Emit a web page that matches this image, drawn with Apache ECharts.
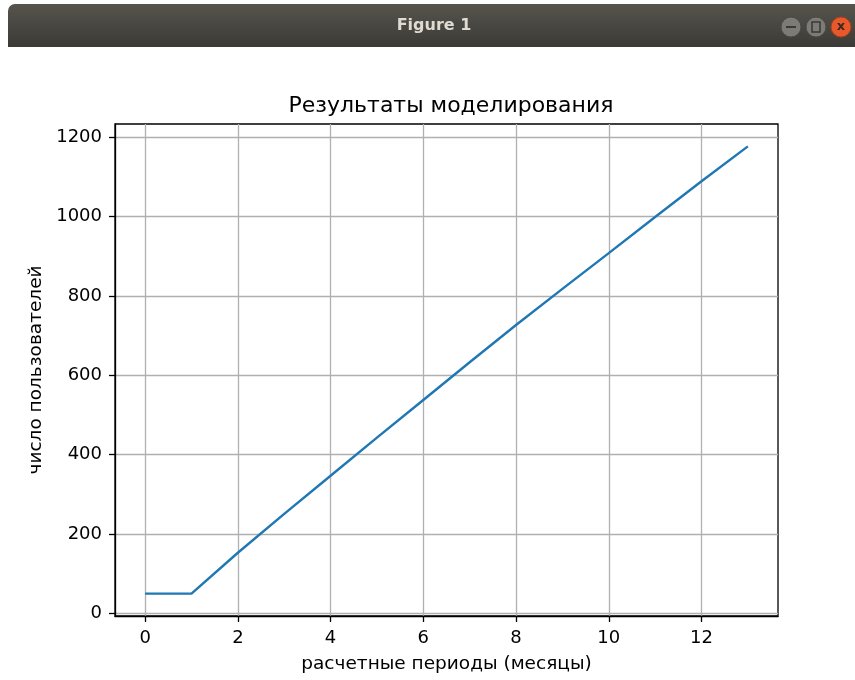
<!DOCTYPE html>
<html>
<head>
<meta charset="utf-8">
<script src="https://cdn.jsdelivr.net/npm/echarts@6/dist/echarts.min.js"></script>
<style>
  html, body { margin: 0; padding: 0; background: #ffffff; }
  #chart { width: 855px; height: 680px; }
</style>
</head>
<body>
<div id="chart"></div>
<script>
const periods = [0, 1, 2, 3, 4, 5, 6, 7, 8, 9, 10, 11, 12, 13];
const users = [50, 50, 153, 251, 347, 443, 538, 633, 727, 818, 908, 999, 1089, 1177];
const xTicks = [0, 2, 4, 6, 8, 10, 12];
const yTicks = [0, 200, 400, 600, 800, 1000, 1200];
const titleText = 'Результаты моделирования';
const xLabel = 'расчетные периоды (месяцы)';
const yLabel = 'число пользователей';
const windowTitle = 'Figure 1';

const xSpan = periods[periods.length - 1] - periods[0];
const yMinD = Math.min(...users), yMaxD = Math.max(...users);
const ySpan = yMaxD - yMinD;

const chart = echarts.init(document.getElementById('chart'), null, { renderer: 'canvas' });
const FONT = '"DejaVu Sans", sans-serif';

chart.setOption({
  animation: false,
  backgroundColor: '#ffffff',
  title: {
    text: titleText,
    left: 446, top: 90, textAlign: 'center',
    textStyle: { fontFamily: FONT, fontSize: 22, fontWeight: 'normal', color: '#000' }
  },
  grid: {
    left: 115, right: 77, top: 124, bottom: 64,
    containLabel: false, outerBoundsMode: 'none',
    show: true, borderColor: '#000', borderWidth: 1.3, backgroundColor: 'transparent'
  },
  xAxis: {
    type: 'value',
    min: periods[0] - 0.05 * xSpan,
    max: periods[periods.length - 1] + 0.05 * xSpan,
    name: xLabel, nameLocation: 'middle', nameGap: 39,
    nameTextStyle: { fontFamily: FONT, fontSize: 18.5, color: '#000' },
    axisLine: { show: true, onZero: false, lineStyle: { color: '#000', width: 1.3 } },
    axisTick: { show: true, customValues: xTicks, length: 6, lineStyle: { color: '#000', width: 1.3 } },
    axisLabel: { customValues: xTicks, margin: 13, fontFamily: FONT, fontSize: 18, color: '#000',
      formatter: v => String(v) },
    splitLine: { show: true, lineStyle: { color: '#b0b0b0', width: 1.3 } }
  },
  yAxis: {
    type: 'value',
    min: yMinD - 0.05 * ySpan,
    max: yMaxD + 0.05 * ySpan,
    name: yLabel, nameLocation: 'middle', nameGap: 66, nameRotate: 90,
    nameTextStyle: { fontFamily: FONT, fontSize: 18.5, color: '#000' },
    axisLine: { show: true, onZero: false, lineStyle: { color: '#000', width: 1.3 } },
    axisTick: { show: true, customValues: yTicks, length: 6, lineStyle: { color: '#000', width: 1.3 } },
    axisLabel: { customValues: yTicks, margin: 13, fontFamily: FONT, fontSize: 18, color: '#000',
      verticalAlign: 'middle', formatter: v => String(v) },
    splitLine: { show: true, lineStyle: { color: '#b0b0b0', width: 1.3 } }
  },
  series: [{
    type: 'line',
    data: periods.map((p, i) => [p, users[i]]),
    showSymbol: false,
    lineStyle: { color: '#1f77b4', width: 2.4 },
    itemStyle: { color: '#1f77b4' }
  }],
  graphic: [
    {
      type: 'rect', z: 100,
      shape: { x: 8, y: 4, width: 847, height: 43, r: [7, 0, 0, 0] },
      style: {
        fill: new echarts.graphic.LinearGradient(0, 0, 0, 1, [
          { offset: 0, color: '#57544d' },
          { offset: 1, color: '#3b3a36' }
        ])
      }
    },
    {
      type: 'text', z: 101, x: 434, y: 26,
      style: {
        text: windowTitle, fill: '#dfdbd2', font: 'bold 16px "DejaVu Sans", sans-serif',
        textAlign: 'center', textVerticalAlign: 'middle'
      }
    },
    { type: 'circle', z: 101, shape: { cx: 791, cy: 27, r: 10 },
      style: { fill: '#7c7b76', stroke: '#4a4945', lineWidth: 1 } },
    { type: 'rect', z: 102, shape: { x: 786, y: 26, width: 10, height: 2 },
      style: { fill: '#3b3a36' } },
    { type: 'circle', z: 101, shape: { cx: 816, cy: 27, r: 10 },
      style: { fill: '#7c7b76', stroke: '#4a4945', lineWidth: 1 } },
    { type: 'rect', z: 102, shape: { x: 812, y: 22, width: 8, height: 10 },
      style: { fill: 'none', stroke: '#3b3a36', lineWidth: 1.5 } },
    { type: 'circle', z: 101, shape: { cx: 841, cy: 27, r: 10 },
      style: { fill: '#e9582a', stroke: '#a8401e', lineWidth: 1 } },
    { type: 'text', z: 102, x: 841, y: 27,
      style: { text: 'x', fill: '#3b2a20', font: 'bold 13px "DejaVu Sans", sans-serif',
        textAlign: 'center', textVerticalAlign: 'middle' } }
  ]
});
</script>
</body>
</html>
